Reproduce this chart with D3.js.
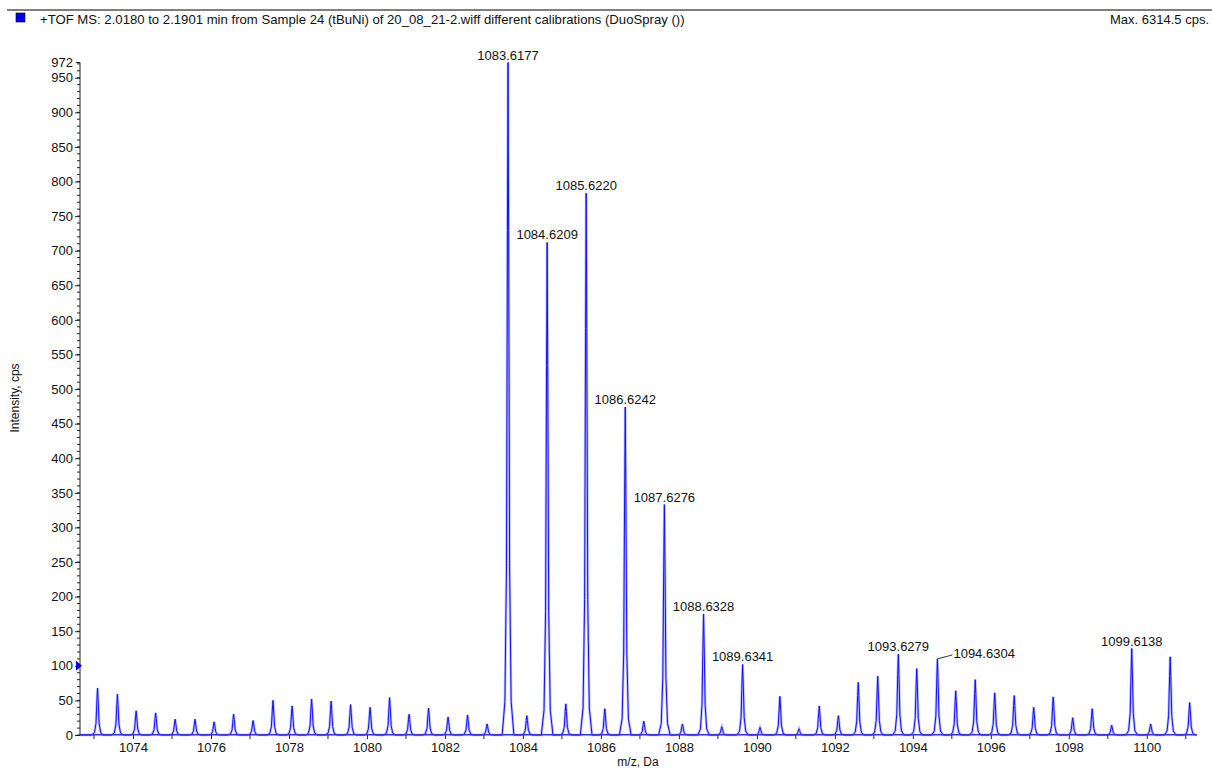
<!DOCTYPE html>
<html>
<head>
<meta charset="utf-8">
<script src="https://cdn.jsdelivr.net/npm/d3@7"></script>
<style>
  body { margin: 0; background: #fff; }
  svg text { font-family: "Liberation Sans", Arial, sans-serif; fill: #111; }
</style>
</head>
<body>
<svg id="chart" width="1212" height="768"></svg>
<script>
// peak apex positions (m/z) and heights (cps)
var peakMz = [1073.09, 1073.60, 1074.08, 1074.58, 1075.08, 1075.59, 1076.08, 1076.58, 1077.08, 1077.59,
              1078.08, 1078.58, 1079.08, 1079.58, 1080.08, 1080.58, 1081.08, 1081.58, 1082.08, 1082.58,
              1083.08, 1083.6177, 1084.10, 1084.6209, 1085.10, 1085.6220, 1086.10, 1086.6242, 1087.10, 1087.6276,
              1088.09, 1088.6328, 1089.10, 1089.6341, 1090.08, 1090.59, 1091.08, 1091.60, 1092.09, 1092.60,
              1093.10, 1093.6279, 1094.10, 1094.6304, 1095.10, 1095.60, 1096.10, 1096.60, 1097.10, 1097.60,
              1098.10, 1098.60, 1099.10, 1099.6138, 1100.10, 1100.60, 1101.10];
var peakInt = [68, 59, 35, 32, 23, 23, 19, 30, 21, 50,
               42, 52, 49, 44, 40, 54, 30, 39, 26, 29,
               16, 972, 28, 712, 45, 783, 38, 474, 20, 333,
               16, 175, 12, 102, 11, 56, 9, 42, 28, 76,
               85, 117, 96, 110, 64, 80, 61, 57, 40, 55,
               25, 38, 14, 125, 16, 113, 47];

// annotated peaks
var labelMz = [1083.6177, 1084.6209, 1085.6220, 1086.6242, 1087.6276, 1088.6328, 1089.6341, 1093.6279, 1094.6304, 1099.6138];
var labelText = ["1083.6177", "1084.6209", "1085.6220", "1086.6242", "1087.6276", "1088.6328", "1089.6341", "1093.6279", "1094.6304", "1099.6138"];
var leaderLabels = ["1094.6304"];

var yTicks = [0, 50, 100, 150, 200, 250, 300, 350, 400, 450, 500, 550, 600, 650, 700, 750, 800, 850, 900, 950];
var yMax = 972;
var xTicks = [1074, 1076, 1078, 1080, 1082, 1084, 1086, 1088, 1090, 1092, 1094, 1096, 1098, 1100];

var titleText = "+TOF MS: 2.0180 to 2.1901 min from Sample 24 (tBuNi) of 20_08_21-2.wiff different calibrations (DuoSpray ())";
var maxText = "Max. 6314.5 cps.";

// profile of one peak: offset in Da, fraction of apex height
var peakShape = [[-0.15, 0], [-0.08, 0.05], [-0.04, 0.25], [-0.015, 0.75], [0, 1],
                 [0.015, 0.75], [0.04, 0.25], [0.08, 0.05], [0.15, 0]];

var svg = d3.select("#chart");

var x = d3.scaleLinear().domain([1072.64, 1101.28]).range([80, 1196.7]);
var y = d3.scaleLinear().domain([0, yMax]).range([735, 62.5]);

// header
svg.append("line").attr("x1", 7).attr("x2", 1212).attr("y1", 10).attr("y2", 10)
   .attr("stroke", "#555").attr("stroke-width", 1.5);
svg.append("rect").attr("x", 16).attr("y", 13).attr("width", 9).attr("height", 9)
   .attr("fill", "#0000ee").attr("stroke", "#000").attr("stroke-width", 0.6);
svg.append("text").attr("x", 40).attr("y", 24).style("font-size", "13.15px").text(titleText);
svg.append("text").attr("x", 1209).attr("y", 24).attr("text-anchor", "end")
   .style("font-size", "13px").text(maxText);

// build continuous profile
var pts = [[x.domain()[0], 0]];
peakMz.forEach(function(m, i) {
  peakShape.forEach(function(s) { pts.push([m + s[0], peakInt[i] * s[1]]); });
});
pts.push([x.domain()[1], 0]);

var line = d3.line().x(function(d) { return x(d[0]); }).y(function(d) { return y(d[1]); });

svg.append("path").datum(pts).attr("d", line)
   .attr("fill", "none").attr("stroke", "#8c8cff").attr("stroke-width", 2.6).attr("stroke-opacity", 0.6);
svg.append("path").datum(pts).attr("d", line)
   .attr("fill", "none").attr("stroke", "#1010ff").attr("stroke-width", 1);

// y axis
var yAxis = d3.axisLeft(y).tickValues(yTicks).tickSize(5).tickPadding(2);
var gy = svg.append("g").attr("transform", "translate(80,0)").call(yAxis);
gy.select(".domain").remove();
gy.append("line").attr("x1", 0).attr("x2", 0).attr("y1", y(yMax)).attr("y2", y(0)).attr("stroke", "#222");
gy.selectAll(".minor").data(d3.range(0, yMax, 10)).enter().append("line")
  .attr("class", "minor").attr("x1", -3).attr("x2", 0)
  .attr("y1", function(d) { return y(d); }).attr("y2", function(d) { return y(d); }).attr("stroke", "#222");
gy.append("line").attr("x1", -4).attr("x2", 0).attr("y1", y(yMax)).attr("y2", y(yMax)).attr("stroke", "#222");
gy.append("text").attr("x", -7).attr("y", y(yMax)).attr("dy", "0.32em").attr("text-anchor", "end")
  .style("font-size", "13px").text(yMax);
gy.selectAll("text").style("font-size", "13px").attr("fill", "#111");
gy.selectAll(".tick line").attr("stroke", "#222");

// marker at 100
svg.append("path").attr("d", "M76," + (y(100) - 5) + "L82," + y(100) + "L76," + (y(100) + 5) + "Z")
   .attr("fill", "#0000cc");

// x axis
var xAxis = d3.axisBottom(x).tickValues(xTicks).tickFormat(d3.format("d")).tickSize(4).tickPadding(4);
var gx = svg.append("g").attr("transform", "translate(0,735)").call(xAxis);
gx.select(".domain").remove();
gx.append("line").attr("x1", 80).attr("x2", 1196.7).attr("stroke", "#444");
gx.selectAll(".minor").data(d3.range(1073, 1102, 2)).enter().append("line")
  .attr("class", "minor").attr("y1", 0).attr("y2", 4)
  .attr("x1", function(d) { return x(d); }).attr("x2", function(d) { return x(d); }).attr("stroke", "#222");
gx.selectAll("text").style("font-size", "13px").attr("fill", "#111");
gx.selectAll(".tick line").attr("stroke", "#222");

// baseline drawn over the axis
svg.append("line").attr("x1", 80).attr("x2", 1196.7).attr("y1", y(0) - 0.5).attr("y2", y(0) - 0.5)
   .attr("stroke", "#3030ff").attr("stroke-width", 1);

// axis titles
svg.append("text").attr("x", 638).attr("y", 766).attr("text-anchor", "middle")
   .style("font-size", "12px").text("m/z, Da");
svg.append("text").attr("transform", "translate(19,398) rotate(-90)").attr("text-anchor", "middle")
   .style("font-size", "12px").text("Intensity, cps");

// peak labels
labelMz.forEach(function(m, i) {
  var h = peakInt[peakMz.indexOf(m)];
  var px = x(m), py = y(h);
  if (leaderLabels.indexOf(labelText[i]) >= 0) {
    svg.append("line").attr("x1", px).attr("y1", py).attr("x2", px + 15).attr("y2", py - 4)
       .attr("stroke", "#333");
    svg.append("text").attr("x", px + 16).attr("y", py - 1).style("font-size", "13px").text(labelText[i]);
  } else {
    svg.append("text").attr("x", px).attr("y", py - 3).attr("text-anchor", "middle")
       .style("font-size", "13px").text(labelText[i]);
  }
});
</script>
</body>
</html>
